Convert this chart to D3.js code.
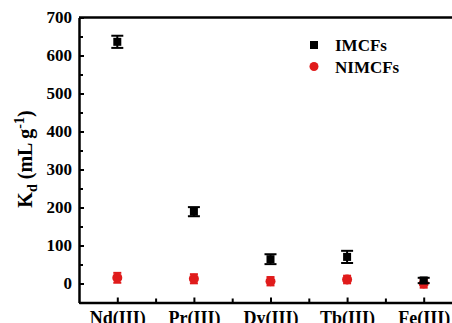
<!DOCTYPE html>
<html lang="en">
<head>
    <meta charset="utf-8">
    <title>Kd chart</title>
    <script src="https://d3js.org/d3.v7.min.js"></script>
    <style>
        body { margin: 0; background: #fff; }
        text { font-family: "Liberation Serif", "Times New Roman", serif; font-weight: bold; }
    </style>
</head>
<body>
<div id="chart"></div>
<script>
    // Data
    const categories = ["Nd(III)", "Pr(III)", "Dy(III)", "Tb(III)", "Fe(III)"];
    const imcfs = [636, 189, 64, 70, 8];
    const imcfsErr = [16, 12, 13, 16, 7];
    const nimcfs = [15, 12.5, 6, 10.5, 0];
    const nimcfsErr = [13, 12, 11, 10, 11];
    const yTicks = [0, 100, 200, 300, 400, 500, 600, 700];

    const W = 452, H = 323;
    const margin = {top: 17.5, left: 79, bottom: 20.5};

    const svg = d3.select("#chart")
        .append("svg")
        .attr("width", W)
        .attr("height", H);

    // x runs past the right edge of the picture (chart is cropped there)
    const x = d3.scaleLinear()
        .domain([0.5, 5.5])
        .range([margin.left, margin.left + 5 * 76.6]);

    const y = d3.scaleLinear()
        .domain([-50, 700])
        .range([H - margin.bottom, margin.top]);

    // Y axis (ticks inward)
    svg.append("g")
        .attr("transform", `translate(${margin.left},0)`)
        .call(d3.axisLeft(y).tickValues(yTicks).tickSize(-5).tickPadding(7).tickSizeOuter(0));
    svg.append("g")
        .attr("transform", `translate(${margin.left},0)`)
        .call(d3.axisLeft(y).tickValues(d3.range(-50, 700, 100)).tickSize(-4).tickFormat("").tickSizeOuter(0))
        .select(".domain").remove();

    // X axis (ticks inward)
    const xAxis = svg.append("g")
        .attr("transform", `translate(0,${y(-50)})`)
        .call(d3.axisBottom(x).tickValues([1, 2, 3, 4, 5]).tickSize(-5).tickPadding(9)
            .tickFormat(d => categories[d - 1]).tickSizeOuter(0));
    svg.append("g")
        .attr("transform", `translate(0,${y(-50)})`)
        .call(d3.axisBottom(x).tickValues([1.5, 2.5, 3.5, 4.5]).tickSize(-4).tickFormat("").tickSizeOuter(0))
        .select(".domain").remove();

    // Top frame line
    svg.append("line")
        .attr("x1", margin.left).attr("x2", W)
        .attr("y1", y(700)).attr("y2", y(700))
        .attr("stroke", "#000").attr("stroke-width", 2.5);

    svg.selectAll(".domain").attr("stroke-width", 2.5);
    svg.selectAll(".tick line").attr("stroke-width", 2);
    svg.selectAll(".tick text").attr("font-size", 17).attr("fill", "#000");
    xAxis.selectAll(".tick text").attr("font-size", 18);

    // Y label
    const ylab = svg.append("text")
        .attr("transform", `translate(32,159) rotate(-90)`)
        .attr("text-anchor", "middle")
        .attr("font-size", 20);
    ylab.append("tspan").text("K");
    ylab.append("tspan").attr("font-size", 14).attr("dy", 5).text("d");
    ylab.append("tspan").attr("dy", -5).text(" (mL g");
    ylab.append("tspan").attr("font-size", 14).attr("dy", -8).text("-1");
    ylab.append("tspan").attr("dy", 8).text(")");

    // Error bars helper
    function errorBars(vals, errs, color, cap) {
        const g = svg.append("g").attr("stroke", color).attr("stroke-width", 2);
        vals.forEach((v, i) => {
            const cx = x(i + 1);
            g.append("line").attr("x1", cx).attr("x2", cx)
                .attr("y1", y(v - errs[i])).attr("y2", y(v + errs[i]));
            [v - errs[i], v + errs[i]].forEach(e => {
                g.append("line").attr("x1", cx - cap).attr("x2", cx + cap)
                    .attr("y1", y(e)).attr("y2", y(e));
            });
        });
    }

    // NIMCFs (red circles)
    errorBars(nimcfs, nimcfsErr, "#e01b1b", 4);
    svg.selectAll(".nim")
        .data(nimcfs)
        .join("circle")
        .attr("cx", (d, i) => x(i + 1))
        .attr("cy", d => y(d))
        .attr("r", 5)
        .attr("fill", "#e01b1b");

    // IMCFs (black squares)
    errorBars(imcfs, imcfsErr, "#000", 6);
    svg.selectAll(".im")
        .data(imcfs)
        .join("rect")
        .attr("x", (d, i) => x(i + 1) - 4)
        .attr("y", d => y(d) - 4)
        .attr("width", 8)
        .attr("height", 8)
        .attr("fill", "#000");

    // Legend
    const legend = [["IMCFs", "#000", "square"], ["NIMCFs", "#e01b1b", "circle"]];
    legend.forEach((l, i) => {
        const ly = 45 + i * 21.5;
        if (l[2] === "square") {
            svg.append("rect").attr("x", 310).attr("y", ly - 4).attr("width", 8).attr("height", 8).attr("fill", l[1]);
        } else {
            svg.append("circle").attr("cx", 314).attr("cy", ly).attr("r", 4.5).attr("fill", l[1]);
        }
        svg.append("text").attr("x", 335).attr("y", ly + 6).attr("font-size", 17).text(l[0]);
    });
</script>
</body>
</html>
